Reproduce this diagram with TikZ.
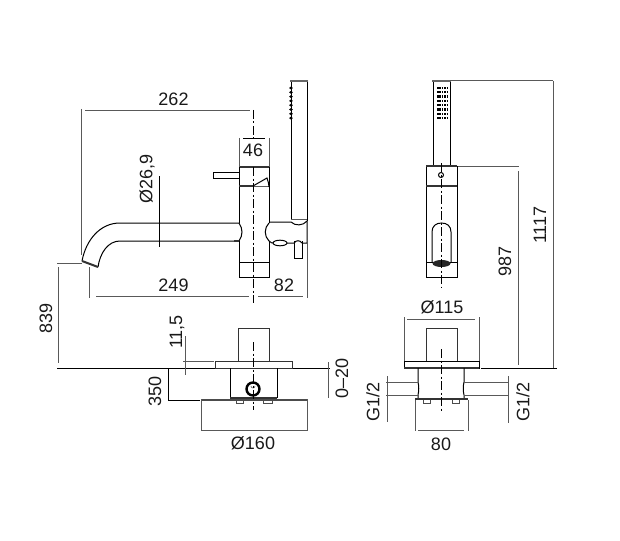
\documentclass[tikz,border=0pt]{standalone}
\usepackage{fontspec}
\setmainfont{Liberation Sans}
\tikzset{
  obj/.style={draw=black,line width=1pt},
  thickobj/.style={draw=black!80,line width=2pt},
  dimline/.style={draw=black!65,line width=1pt},
  axis/.style={draw=black,line width=0.9pt,dash pattern=on 9pt off 2.5pt on 2pt off 2.5pt},
  lab/.style={inner sep=0pt,font=\fontsize{18}{20}\selectfont,text=black!90},
  vlab/.style={lab,rotate=90}
}
\begin{document}
\begin{tikzpicture}[x=1pt,y=-1pt]
\useasboundingbox (0,0) rectangle (620,540);
% ---- side view ----
\draw[obj] (291,219) -- (291,81) (307,81) -- (307,221);
\draw[thickobj,draw=black!60] (290,81) -- (308,81);
\foreach \yy in {88,92.3,...,122} {
  \fill[black] (291,\yy) ellipse [x radius=1.9,y radius=1.5];
}
\draw[thickobj,line width=1.4pt] (239,167) -- (269,167);
\draw[obj] (239,167) -- (239,223) (239,241) -- (239,277) -- (269,277) -- (269,241) (269,223) -- (269,167);
\draw[thickobj] (239,186) -- (253,186);
\draw[dimline] (253,186) -- (269,186);
\draw[obj] (239,262) -- (269,262);
\draw[obj] (239,172) -- (213,172) -- (213,178) -- (239,178);
\draw[obj] (253,186) -- (267,178) .. controls (268,181) and (269,184) .. (269,187);
% spout
\draw[obj] (239,223) -- (120,223) .. controls (100,223) and (86,240) .. (82,261);
\draw[obj] (239,241) -- (120,241) .. controls (108,241) and (100,253) .. (98,267);
\draw[thickobj] (82,261) -- (98,267);
\draw[obj] (239,223) .. controls (243,229) and (243,235) .. (239,241);
\draw[thickobj] (234,241) -- (239,241);
% wall holder
\draw[obj] (269,223) .. controls (264,228) and (264,236) .. (269,241) .. controls (271,243) and (272,243) .. (274,243);
\draw[obj] (269,222) -- (291,222) .. controls (295,226) and (303,226) .. (307,221) -- (307,243) -- (302,243) .. controls (300,240) and (296,240) .. (294,243) -- (287,243);
\draw[obj] (280,243) ellipse [x radius=7,y radius=2.8];
\draw[dimline] (291,219) -- (307,219);
\draw[obj] (294,241) -- (294,258) -- (302,258) -- (302,241);
% dims top
\draw[dimline] (81,109) -- (81,255);
\draw[dimline] (85,111) -- (250,111);
\draw[dimline] (239,138) -- (239,167) (269,138) -- (269,167);
\draw[dimline,draw=black] (243,139) -- (265,139);
\draw[dimline] (96,296) -- (249,296);
\draw[dimline] (258,296) -- (303,296);
\draw[dimline] (89,267) -- (89,298);
\draw[dimline] (307,243) -- (307,298);
\draw[obj] (159,176) -- (159,247);
\draw[axis] (253,110) -- (253,138);
\draw[axis] (253,167) -- (253,303);
\draw[dimline] (57,263) -- (82,263);
\draw[dimline] (58,267) -- (58,363);
\node[lab] (t262) at (173.5,99) {262};
\node[lab] (t46) at (253,150) {46};
\node[vlab] (t269) at (147,179) {Ø26,9};
\node[lab] (t249) at (173.5,285) {249};
\node[lab] (t82) at (284,285) {82};
\node[vlab] (t839) at (46,318) {839};
% ---- plan left ----
\draw[obj] (57,368) -- (330,368);
\draw[obj,draw=black!80] (238,361) -- (238,328) -- (269,328) -- (269,361);
\draw[obj,draw=black!80] (215,361) rectangle (292,368);
\draw[obj] (230,368) -- (230,398) (277,368) -- (277,398);
\draw[thickobj] (230,398) -- (277,398);
\draw[thickobj,draw=black!70] (201,400) -- (307,400);
\draw[obj,draw=black!70] (236,401) -- (236,403) -- (243,403) -- (243,401) (263,401) -- (263,403) -- (272,403) -- (272,401);
\draw[line width=2.4pt,draw=black] (253,389) circle (6.5);
\draw[dimline,line width=0.6pt] (251,386) arc (180:0:2);
\draw[dimline] (201,399) -- (201,431) (307,399) -- (307,431);
\draw[dimline] (201,430) -- (307,430);
\draw[axis] (253,342) -- (253,410);
\draw[dimline] (183,361) -- (214,361);
\draw[dimline] (185,336) -- (185,375);
\draw[obj] (168,368) -- (168,400) -- (200,400);
\draw[dimline] (328,362) -- (328,398);
\node[lab] (t160) at (253,443.5) {Ø160};
\node[vlab] (t115b) at (177,332) {11,5};
\node[vlab] (t350) at (155,391) {350};
\node[vlab] (t020) at (342,378) {0–20};
% ---- front view ----
\draw[obj] (433,166) -- (433,81) (450,81) -- (450,166);
\draw[thickobj,draw=black!60] (432,81) -- (451,81);
\foreach \yy in {88,92.3,...,122} {
  \draw[black,line width=2.2pt,dash pattern=on 1.6pt off 0.8pt] (437,\yy) -- (447,\yy);
}
\draw[obj] (426,166) rectangle (457,277);
\draw[thickobj,line width=1.6pt] (426,166) -- (457,166);
\draw[thickobj] (426,186) -- (457,186);
\draw[obj] (441,175) circle (2.5);
\draw[obj] (432,262) -- (432,232) .. controls (432,226) and (436,223) .. (441.5,223) .. controls (447,223) and (451,226) .. (451,232) -- (451,262);
\draw[obj] (426,262) -- (457,262);
\fill[black!85] (441.5,263.5) ellipse [x radius=9,y radius=3.5];
\draw[axis] (441.5,163) -- (441.5,288);
\draw[dimline] (450,81) -- (553,81);
\draw[dimline] (553,81) -- (553,368);
\draw[dimline] (458,166) -- (519,166);
\draw[dimline] (518,171) -- (518,365);
\node[vlab] (t1117) at (540,225) {1117};
\node[vlab] (t987) at (505,261) {987};
% ---- plan right ----
\draw[obj] (481,368) -- (557,368);
\draw[obj,draw=black!80] (426,361) -- (426,328) -- (457,328) -- (457,361);
\draw[obj] (404,361) rectangle (479,368);
\draw[thickobj,line width=1.4pt] (404,368) -- (479,368);
\draw[dimline] (404,317) -- (404,361) (479,317) -- (479,361);
\draw[dimline] (407,319) -- (475,319);
\draw[obj] (418,368) -- (418,382) .. controls (419,386) and (419,391) .. (418,395) -- (418,398);
\draw[obj] (464,368) -- (464,382) .. controls (463,386) and (463,391) .. (464,395) -- (464,398);
\draw[thickobj,draw=black!80] (415,398.5) -- (468,398.5);
\draw[obj,draw=black!70] (423,400) -- (423,403) -- (430,403) -- (430,400) (452,400) -- (452,403) -- (459,403) -- (459,400);
\draw[axis] (441.5,349) -- (441.5,411);
\draw[dimline] (386,382) -- (418,382) (386,395) -- (418,395);
\draw[dimline] (464,382) -- (509,382) (464,395) -- (509,395);
\draw[dimline] (387,376) -- (387,422);
\draw[dimline] (508,376) -- (508,423);
\draw[dimline] (415,400) -- (415,431) (468,400) -- (468,431);
\draw[dimline] (418,430) -- (464,430);
\node[lab] (t115) at (442,307) {Ø115};
\node[lab] (t80) at (441,444) {80};
\node[vlab] (tg1) at (373,402) {G1/2};
\node[vlab] (tg2) at (523,402) {G1/2};
\end{tikzpicture}
\end{document}
